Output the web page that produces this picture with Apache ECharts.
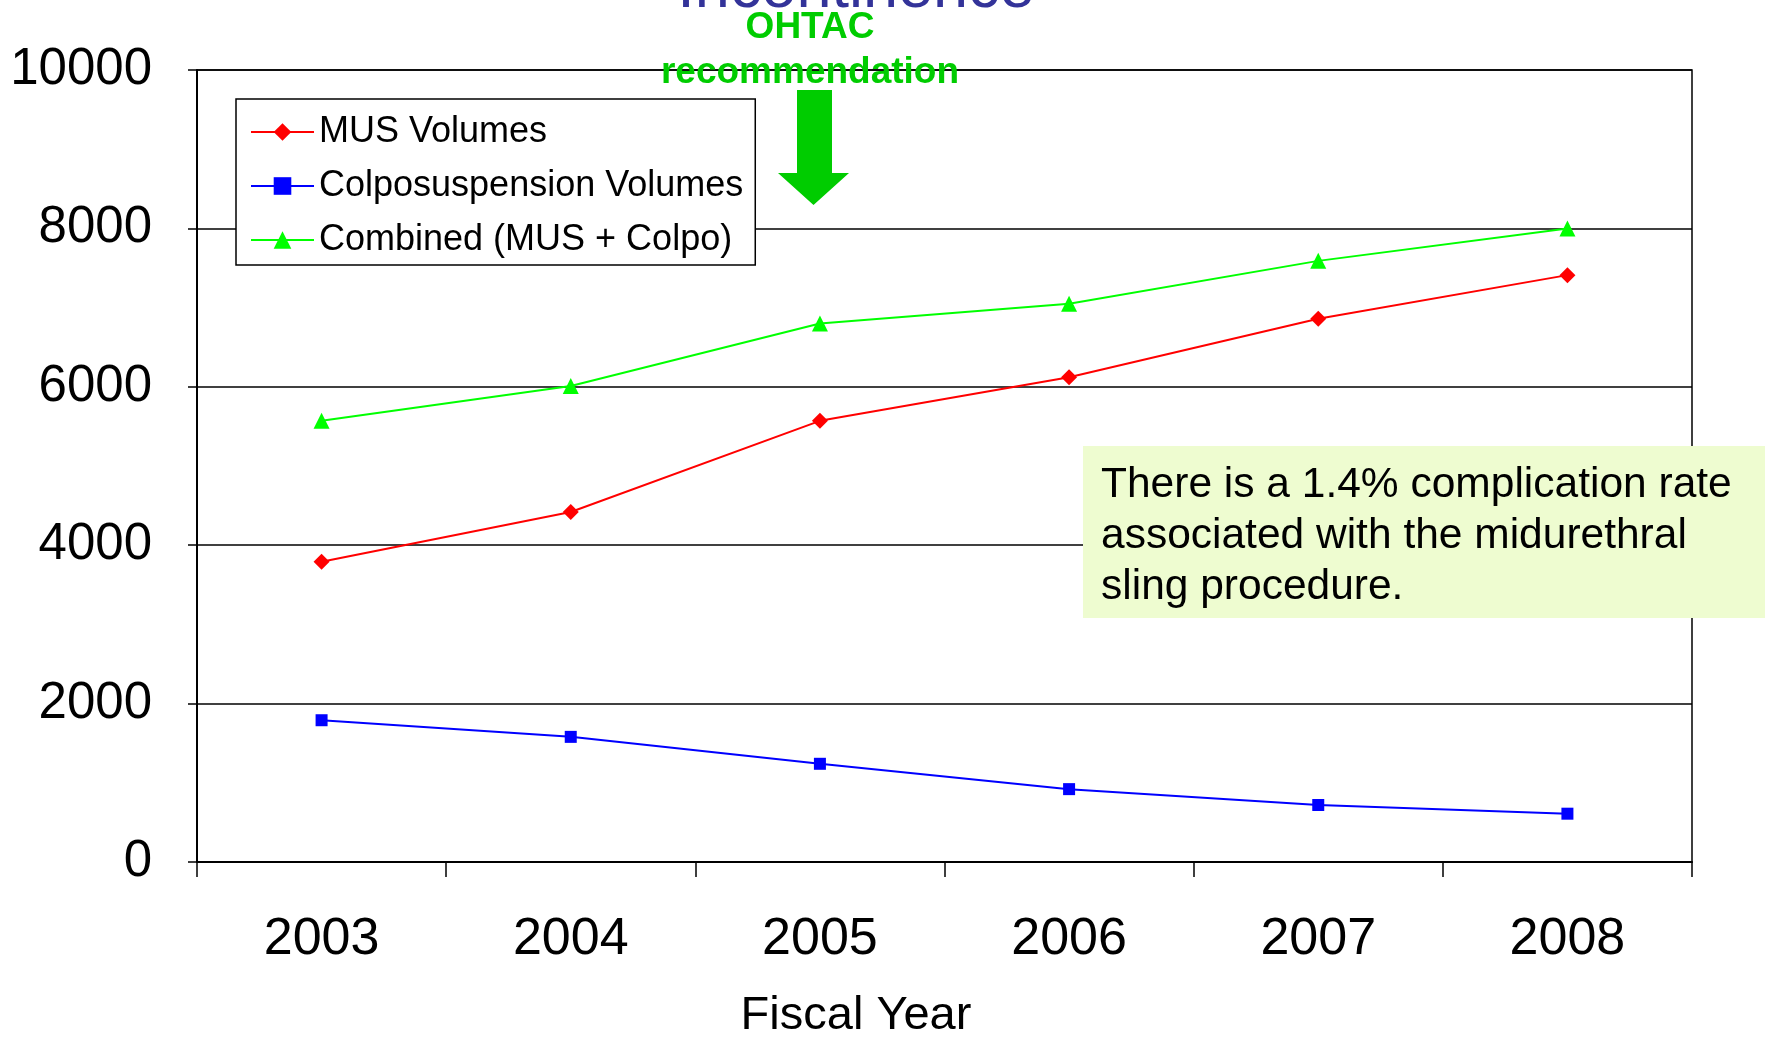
<!DOCTYPE html>
<html>
<head>
<meta charset="utf-8">
<title>MUS and Colposuspension Volumes by Fiscal Year</title>
<script src="https://cdn.jsdelivr.net/npm/echarts@6/dist/echarts.min.js"></script>
<style>
  html, body { margin: 0; padding: 0; background: #fff; }
  #chart { width: 1765px; height: 1046px; }
</style>
</head>
<body>
<div id="chart"></div>
<script>
// Fiscal years on the category axis
const fiscalYears = ['2003', '2004', '2005', '2006', '2007', '2008'];

// Procedure volumes per fiscal year
const musVolumes = [3790, 4420, 5570, 6120, 6860, 7410];
const colpoVolumes = [1790, 1580, 1240, 920, 720, 610];
const combinedVolumes = [5570, 6010, 6800, 7050, 7590, 8000];

// Value axis ticks
const yMin = 0;
const yMax = 10000;
const yStep = 2000;

const FONT = '"Liberation Sans", Arial, Helvetica, sans-serif';

const chart = echarts.init(document.getElementById('chart'), null, { renderer: 'canvas' });

const lineSeries = (name, data, color, symbol, size) => ({
  name: name,
  type: 'line',
  data: data,
  symbol: symbol,
  symbolSize: size,
  showSymbol: true,
  lineStyle: { color: color, width: 2 },
  itemStyle: { color: color },
  emphasis: { disabled: true },
  animation: false
});

chart.setOption({
  backgroundColor: '#ffffff',
  animation: false,
  grid: {
    left: 197,
    right: 73,
    top: 70,
    bottom: 184,
    containLabel: false,
    outerBoundsMode: 'none',
    show: true,
    borderColor: '#000',
    borderWidth: 1.5,
    backgroundColor: 'transparent'
  },
  legend: {
    orient: 'vertical',
    left: 236,
    top: 99,
    padding: [13, 12, 5, 14],
    itemWidth: 63,
    itemHeight: 22,
    itemGap: 14,
    borderColor: '#000',
    borderWidth: 1.5,
    backgroundColor: '#fff',
    textStyle: { fontFamily: FONT, fontSize: 36, color: '#000', lineHeight: 40 },
    data: ['MUS Volumes', 'Colposuspension Volumes', 'Combined (MUS + Colpo)']
  },
  xAxis: {
    type: 'category',
    data: fiscalYears,
    boundaryGap: true,
    axisLine: { show: true, lineStyle: { color: '#000', width: 2 } },
    axisTick: { show: true, length: 15, alignWithLabel: false, lineStyle: { color: '#000', width: 1.5 } },
    axisLabel: { fontFamily: FONT, fontSize: 52, color: '#000', margin: 52 },
    splitLine: { show: false }
  },
  yAxis: {
    type: 'value',
    min: yMin,
    max: yMax,
    interval: yStep,
    axisLine: { show: true, lineStyle: { color: '#000', width: 2 } },
    axisTick: { show: true, length: 9, lineStyle: { color: '#000', width: 1.5 } },
    axisLabel: {
      fontFamily: FONT, fontSize: 51, color: '#000', margin: 45,
      formatter: (v) => String(v)
    },
    splitLine: { show: true, lineStyle: { color: '#000', width: 1.5 } }
  },
  series: [
    lineSeries('MUS Volumes', musVolumes, '#ff0000', 'diamond', 16),
    lineSeries('Colposuspension Volumes', colpoVolumes, '#0000ff', 'rect', 12),
    lineSeries('Combined (MUS + Colpo)', combinedVolumes, '#00ff00', 'triangle', 16)
  ],
  graphic: [
    {
      type: 'text',
      x: 856, y: -10,
      z: 50,
      style: {
        text: 'Incontinence',
        fontFamily: FONT, fontSize: 63,
        fill: '#333399',
        align: 'center', verticalAlign: 'middle'
      }
    },
    {
      type: 'text',
      x: 810, y: 28,
      z: 60,
      style: {
        text: 'OHTAC',
        fontFamily: FONT, fontSize: 37, fontWeight: 'bold',
        fill: '#00cc00',
        align: 'center', verticalAlign: 'middle'
      }
    },
    {
      type: 'text',
      x: 810, y: 73,
      z: 60,
      style: {
        text: 'recommendation',
        fontFamily: FONT, fontSize: 37, fontWeight: 'bold',
        fill: '#00cc00',
        align: 'center', verticalAlign: 'middle'
      }
    },
    {
      type: 'polygon',
      z: 60,
      shape: {
        points: [[797, 90], [832, 90], [832, 173], [849, 173], [813.5, 205], [778, 173], [797, 173]]
      },
      style: { fill: '#00cc00' }
    },
    {
      type: 'rect',
      z: 70,
      shape: { x: 1083, y: 446, width: 682, height: 172 },
      style: { fill: '#eefcd0' }
    },
    {
      type: 'text',
      x: 1101, y: 536,
      z: 71,
      style: {
        text: 'There is a 1.4% complication rate\nassociated with the midurethral\nsling procedure.',
        fontFamily: FONT, fontSize: 42.5,
        lineHeight: 51,
        fill: '#000',
        align: 'left', verticalAlign: 'middle'
      }
    },
    {
      type: 'text',
      x: 856, y: 1016,
      z: 60,
      style: {
        text: 'Fiscal Year',
        fontFamily: FONT, fontSize: 47,
        fill: '#000',
        align: 'center', verticalAlign: 'middle'
      }
    }
  ]
});
</script>
</body>
</html>
